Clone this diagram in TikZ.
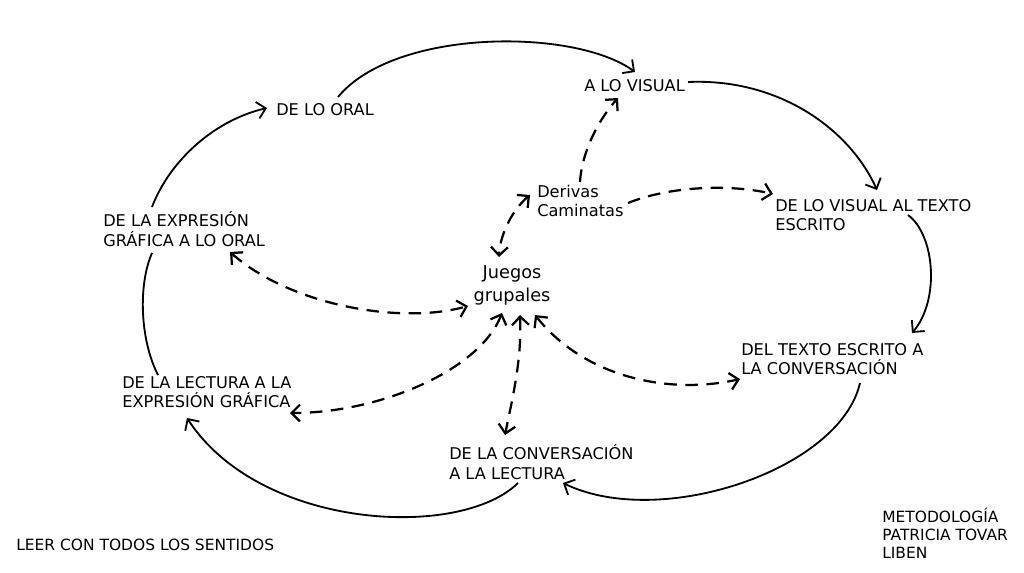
\documentclass[tikz,border=0pt]{standalone}
\usepackage{fontspec}
\setmainfont{DejaVu Sans}
\usetikzlibrary{arrows.meta}

\begin{document}
\begin{tikzpicture}[x=0.025cm,y=-0.025cm,
		>={Straight Barb[length=6pt,width=12pt]},
		stage/.style={inner sep=0pt,align=left,anchor=west,font=\fontsize{11.5}{14}\selectfont},
		note/.style={inner sep=0pt,align=left,anchor=west,font=\fontsize{11}{12.8}\selectfont},
		flow/.style={->,line width=1.3pt},
		link/.style={line width=1.6pt,dash pattern=on 9pt off 6pt}]
		\useasboundingbox (0,0) rectangle (1024,572);

		\node [stage] (oral) at (276,110) {DE LO ORAL};
		\node [stage] (visual) at (584,86) {A LO VISUAL};
		\node [stage] (expresion) at (103,229) {DE LA EXPRESIÓN\\GRÁFICA A LO ORAL};
		\node [stage] (derivas) at (537,201) {Derivas\\Caminatas};
		\node [stage] (vtexto) at (775,215) {DE LO VISUAL AL TEXTO\\ESCRITO};
		\node [inner sep=0pt,align=center,font=\fontsize{12.6}{16.3}\selectfont] (juegos) at (512,285) {Juegos\\grupales};
		\node [stage] (textoconv) at (741,359) {DEL TEXTO ESCRITO A\\LA CONVERSACIÓN};
		\node [stage] (lectura) at (122,392) {DE LA LECTURA A LA\\EXPRESIÓN GRÁFICA};
		\node [stage] (conversacion) at (449,462) {DE LA CONVERSACIÓN\\A LA LECTURA};

		\node [note] (leer) at (16,545) {LEER CON TODOS LOS SENTIDOS};
		\node [note] (metodo) at (882,533) {METODOLOGÍA\\PATRICIA TOVAR\\LIBEN};

		% the cycle
		\draw [flow] ([shift={(62,-13)}]oral.west) .. controls +(57,-69) and +(-60,-44) .. ([shift={(51,-14)}]visual.west);
		\draw [flow] ([shift={(104,-4)}]visual.west) .. controls +(92,-4) and +(-27,-60) .. ([shift={(102,-25)}]vtexto.west);
		\draw [flow] ([shift={(133,0)}]vtexto.west) .. controls +(27,20) and +(28,-33) .. ([shift={(171,-26)}]textoconv.west);
		\draw [flow] ([shift={(119,24)}]textoconv.west) .. controls +(-20,87) and +(97,47) .. ([shift={(114,21)}]conversacion.west);
		\draw [flow] ([shift={(69,21)}]conversacion.west) .. controls +(-58,57) and +(73,112) .. ([shift={(65,26)}]lectura.west);
		\draw [line width=1.3pt] ([shift={(36,-17)}]lectura.west) .. controls +(-18,-35) and +(-14,32) .. ([shift={(49,24)}]expresion.west);
		\draw [flow] ([shift={(49,-22)}]expresion.west) .. controls +(18,-47) and +(-52,12) .. ([shift={(-9,-2)}]oral.west);

		% dashed links
		\draw [link,->] ([shift={(43,-19)}]derivas.west) .. controls +(2,-32) and +(-18,20) .. ([shift={(34,12)}]visual.west);
		\draw [link,<->] ([shift={(-7,-6)}]derivas.west) .. controls +(-18,15) and +(1,-22) .. ([shift={(-13,-28)}]juegos.center);
		\draw [link,->] ([shift={(91,2)}]derivas.west) .. controls +(42,-17) and +(-43,-10) .. ([shift={(-2,-21)}]vtexto.west);
		\draw [link,<->] ([shift={(127,23)}]expresion.west) .. controls +(60,53) and +(-68,19) .. ([shift={(-44,21)}]juegos.center);
		\draw [link,<->] ([shift={(-10,28)}]juegos.center) .. controls +(-22,57) and +(90,0) .. ([shift={(168,21)}]lectura.west);
		\draw [link,<->] ([shift={(8,30)}]juegos.center) .. controls +(2,45) and +(7,-35) .. ([shift={(56,-27)}]conversacion.west);
		\draw [link,<->] ([shift={(23,30)}]juegos.center) .. controls +(50,63) and +(-70,16) .. ([shift={(-1,20)}]textoconv.west);
	\end{tikzpicture}
\end{document}
